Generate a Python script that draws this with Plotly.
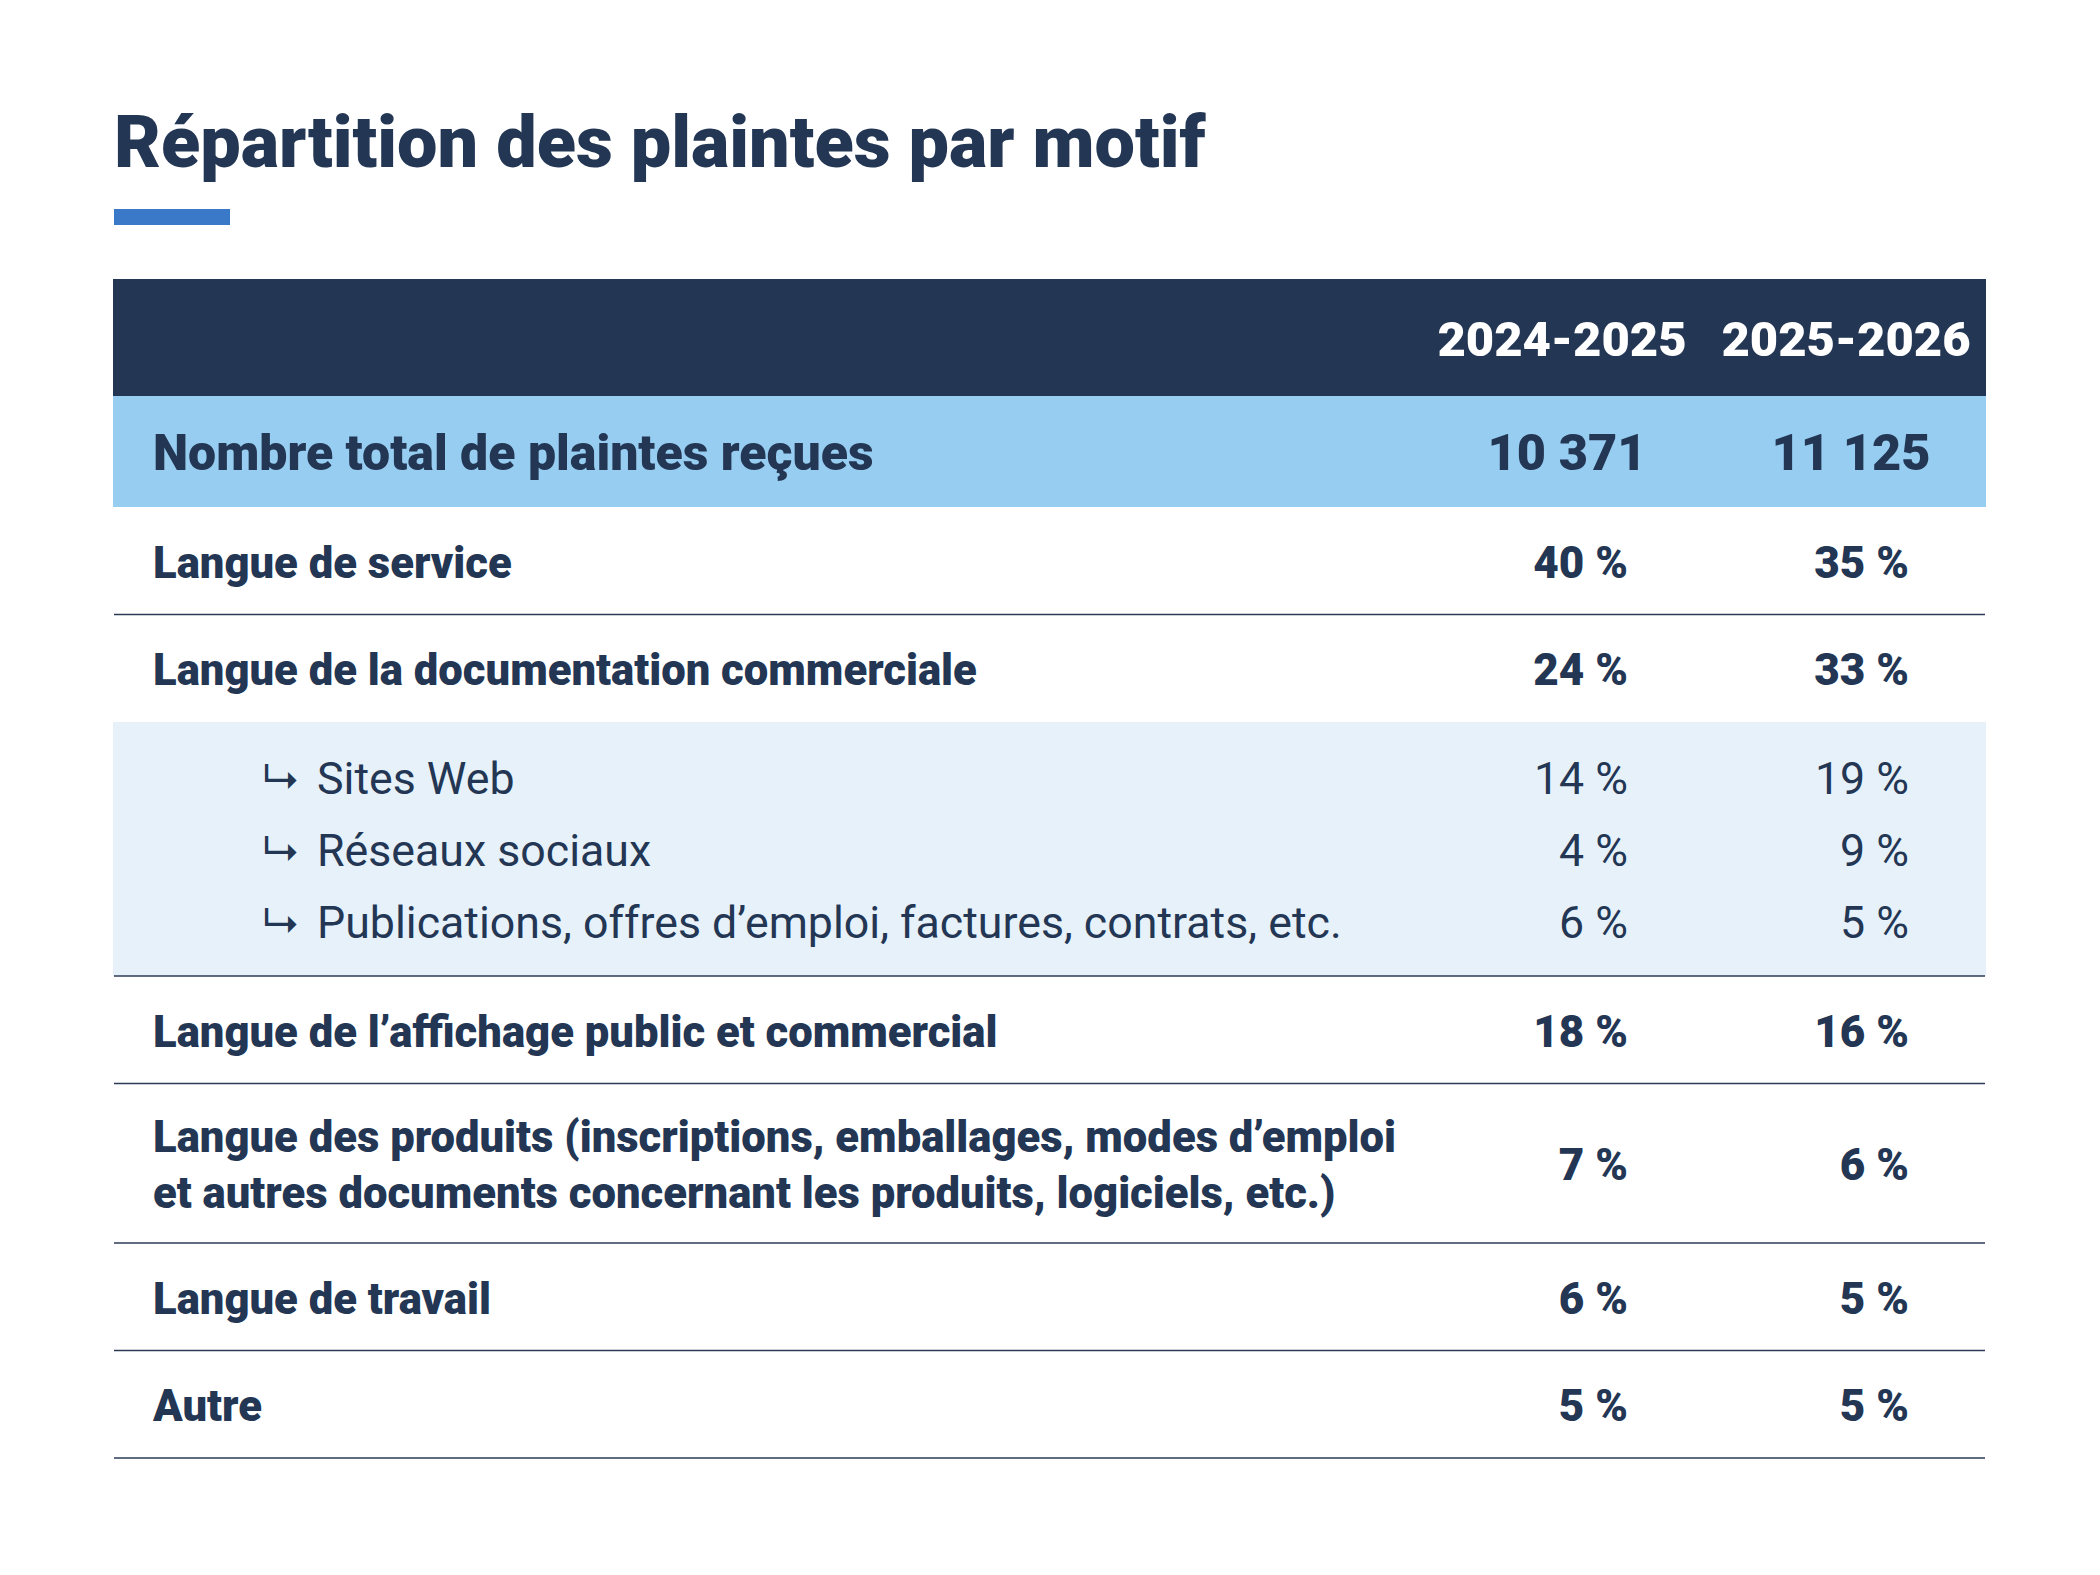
import plotly.graph_objects as go

# ---- data ----
title = "Répartition des plaintes par motif"
periods = ["2024-2025", "2025-2026"]
total_label = "Nombre total de plaintes reçues"
total_complaints = [10371, 11125]

motifs = [
    "Langue de service",
    "Langue de la documentation commerciale",
    "Sites Web",
    "Réseaux sociaux",
    "Publications, offres d’emploi, factures, contrats, etc.",
    "Langue de l’affichage public et commercial",
    "Langue des produits (inscriptions, emballages, modes d’emploi<br>"
    "et autres documents concernant les produits, logiciels, etc.)",
    "Langue de travail",
    "Autre",
]
is_sub = [False, False, True, True, True, False, False, False, False]
share_2024 = [40, 24, 14, 4, 6, 18, 7, 6, 5]
share_2025 = [35, 33, 19, 9, 5, 16, 6, 5, 5]

# ---- style ----
NAVY = "#233654"
RULE = "#2b3b56"
ACCENT = "#3a78c8"
TOTAL_BG = "#96cdf0"
SUB_BG = "#e6f1fa"
FONT = "Roboto"
HEAVY = 900

W, H = 2100, 1575
OFF = 8  # page body margin, keeps coordinates in screen pixels
TEXT_DY = 6
X_LEFT, X_RIGHT = 113, 1986
LABEL_X, ARROW_X, SUB_X = 153, 261, 317
COL_CENTER = [1562, 1846]
TOTAL_CENTER = [1567, 1851]
COL_RIGHT = [1628, 1909]
HEADER_TOP, HEADER_H, TOTAL_H = 279, 117, 111
ROW_H, LINE_H, SUB_H, SUB_PAD = 107.5, 52, 72, 19


def fmt_int(v):
    return f"{v:,}".replace(",", "\u00a0")


def fmt_pct(v):
    return f"{v}\u00a0%"


# row layout
n = len(motifs)
y = HEADER_TOP + HEADER_H + TOTAL_H
centres, rules, blocks = [], [], []
block_top = None
for i in range(n):
    sub = is_sub[i]
    if sub and (i == 0 or not is_sub[i - 1]):
        block_top = y
        y += SUB_PAD
    if sub:
        h = SUB_H
    else:
        h = ROW_H + motifs[i].count("<br>") * LINE_H
    centres.append(y + h / 2 + TEXT_DY)
    y += h
    last_in_block = sub and (i == n - 1 or not is_sub[i + 1])
    if last_in_block:
        y += SUB_PAD
        blocks.append((block_top, y))
    next_sub = i < n - 1 and is_sub[i + 1]
    if not next_sub and (not sub or last_in_block):
        rules.append(y)

header_mid = HEADER_TOP + HEADER_H / 2 + TEXT_DY
total_mid = HEADER_TOP + HEADER_H + TOTAL_H / 2 + TEXT_DY

fig = go.Figure()


def add_text(xs, ys, texts, pos, size, color=NAVY, weight=HEAVY, family=FONT):
    fig.add_trace(go.Scatter(
        x=xs, y=ys, text=texts, mode="text", textposition=pos,
        marker=dict(size=1),
        textfont=dict(family=family, size=size, color=color, weight=weight),
        hoverinfo="skip", showlegend=False,
    ))


# header and total row
add_text(COL_CENTER, [header_mid] * 2, periods, "middle center", 49, "white")
add_text([LABEL_X], [total_mid], [total_label], "middle right", 50)
add_text(TOTAL_CENTER, [total_mid] * 2, [fmt_int(v) for v in total_complaints],
         "middle center", 50.5)

main_idx = [i for i in range(n) if not is_sub[i]]
sub_idx = [i for i in range(n) if is_sub[i]]

add_text([LABEL_X] * len(main_idx), [centres[i] for i in main_idx],
         [motifs[i] for i in main_idx], "middle right", 43.6)
add_text([ARROW_X] * len(sub_idx), [centres[i] for i in sub_idx],
         ["↳"] * len(sub_idx), "middle right", 40, weight=400, family="Inter")
add_text([SUB_X] * len(sub_idx), [centres[i] for i in sub_idx],
         [motifs[i] for i in sub_idx], "middle right", 44.7, weight=400)

for col, shares in enumerate([share_2024, share_2025]):
    add_text([COL_RIGHT[col]] * len(main_idx), [centres[i] for i in main_idx],
             [fmt_pct(shares[i]) for i in main_idx], "middle left", 44)
    add_text([COL_RIGHT[col]] * len(sub_idx), [centres[i] for i in sub_idx],
             [fmt_pct(shares[i]) for i in sub_idx], "middle left", 44.7, weight=400)

# backgrounds and rules
shapes = [
    dict(type="rect", x0=114, x1=230, y0=209, y1=225, fillcolor=ACCENT, line_width=0),
    dict(type="rect", x0=X_LEFT, x1=X_RIGHT, y0=HEADER_TOP, y1=HEADER_TOP + HEADER_H,
         fillcolor=NAVY, line_width=0),
    dict(type="rect", x0=X_LEFT, x1=X_RIGHT, y0=HEADER_TOP + HEADER_H,
         y1=HEADER_TOP + HEADER_H + TOTAL_H, fillcolor=TOTAL_BG, line_width=0),
]
for top, bottom in blocks:
    shapes.append(dict(type="rect", x0=X_LEFT, x1=X_RIGHT, y0=top, y1=bottom,
                       fillcolor=SUB_BG, line_width=0))
for ry in rules:
    shapes.append(dict(type="line", x0=X_LEFT + 1, x1=X_RIGHT - 1, y0=ry, y1=ry,
                       line=dict(color=RULE, width=1.6)))
for s in shapes:
    s.update(xref="x", yref="y", layer="below")

fig.update_layout(
    width=W, height=H,
    margin=dict(l=0, r=0, t=0, b=0),
    paper_bgcolor="white", plot_bgcolor="white",
    xaxis=dict(range=[OFF, W + OFF], visible=False, fixedrange=True),
    yaxis=dict(range=[H + OFF, OFF], visible=False, fixedrange=True),
    shapes=shapes,
    title=dict(text=title, x=(114 - OFF) / W, xref="container", xanchor="left",
               y=1 - (142 - OFF) / H, yref="container", yanchor="middle",
               font=dict(family=FONT, size=72, color=NAVY, weight=HEAVY)),
)

fig.write_html("out.html")
